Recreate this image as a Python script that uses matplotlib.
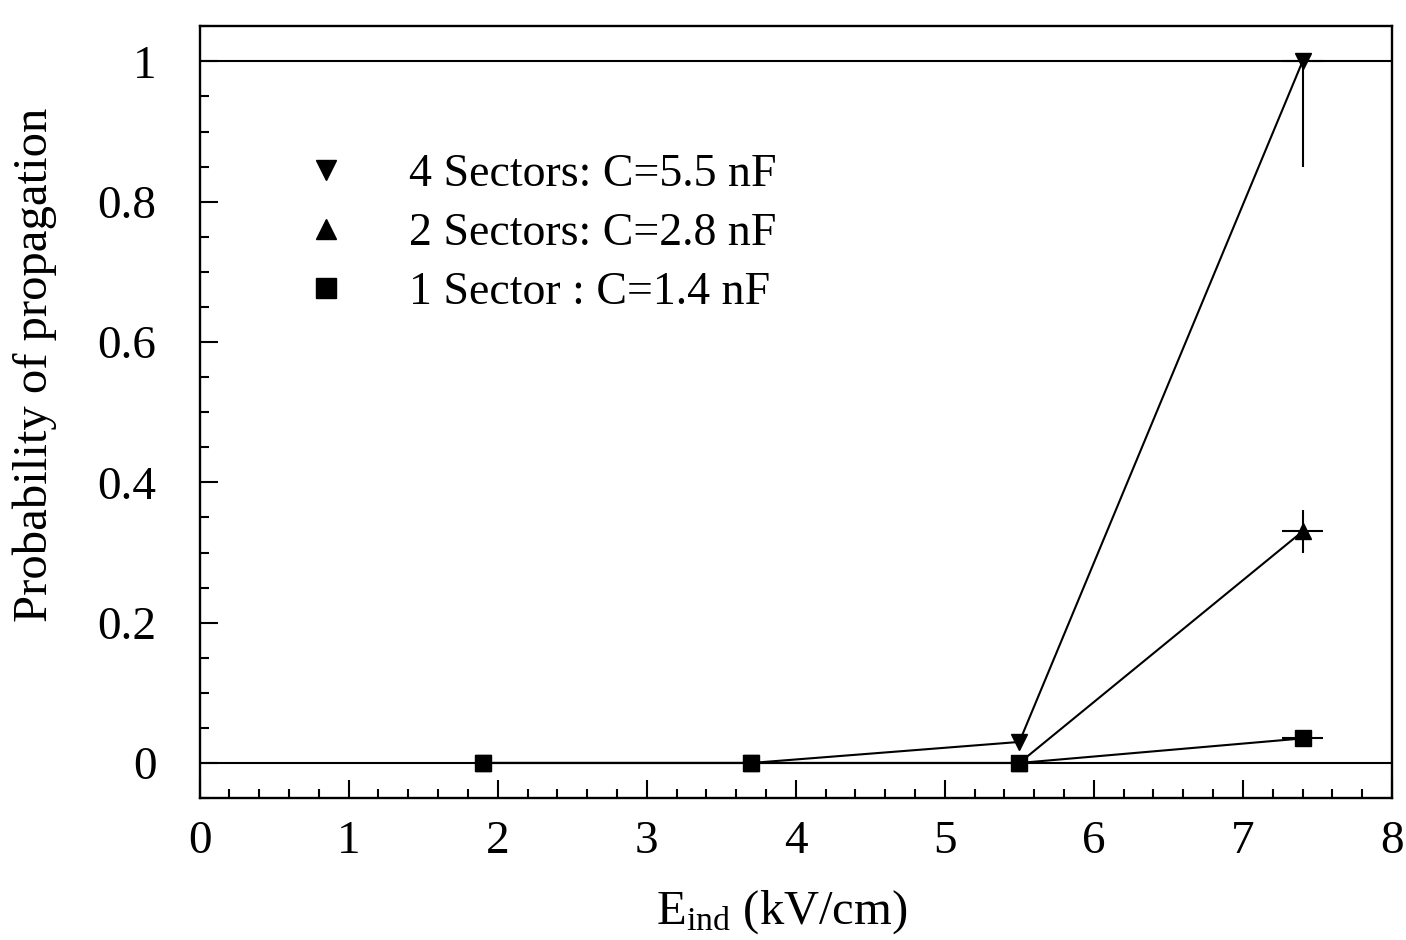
import numpy as np
import matplotlib
matplotlib.use("Agg")
import matplotlib.pyplot as plt
from matplotlib.lines import Line2D

plt.rcParams["font.family"] = ["Liberation Serif", "DejaVu Serif"]
plt.rcParams["mathtext.fontset"] = "custom"
plt.rcParams["mathtext.rm"] = "Liberation Serif"
plt.rcParams["mathtext.it"] = "Liberation Serif:italic"

# induction field (kV/cm)
e_ind = [1.9, 3.7, 5.5, 7.4]

# probability of discharge propagation per configuration
prob_4sec = [0.0, 0.0, 0.03, 1.0]
prob_2sec = [0.0, 0.0, 0.0, 0.33]
prob_1sec = [0.0, 0.0, 0.0, 0.035]

# errors (only the highest field point has visible bars)
err_x = [0, 0, 0, 0.14]
err_4sec_lo = [0, 0, 0, 0.15]
err_4sec_hi = [0, 0, 0, 0.0]
err_2sec = [0, 0, 0, 0.03]
err_1sec = [0, 0, 0, 0.0]

labels = ["4 Sectors: C=5.5 nF", "2 Sectors: C=2.8 nF", "1 Sector : C=1.4 nF"]

x_ticks = [0, 1, 2, 3, 4, 5, 6, 7, 8]
y_ticks = [0, 0.2, 0.4, 0.6, 0.8, 1.0]
y_ticklabels = ["0", "0.2", "0.4", "0.6", "0.8", "1"]

fig = plt.figure(figsize=(14.06, 9.40), dpi=100)
ax = fig.add_axes([0.142, 0.151, 0.848, 0.821])

lw = 1.5
ax.axhline(0, color="k", lw=lw, zorder=1)
ax.axhline(1, color="k", lw=lw, zorder=1)

style = dict(color="k", lw=lw, elinewidth=lw, capsize=0, ms=11, zorder=3)
ax.errorbar(e_ind, prob_4sec, xerr=err_x, yerr=[err_4sec_lo, err_4sec_hi],
            fmt="-v", **style)
ax.errorbar(e_ind, prob_2sec, xerr=err_x, yerr=err_2sec, fmt="-^", **style)
ax.errorbar(e_ind, prob_1sec, xerr=err_x, yerr=err_1sec, fmt="-s", **style)

ax.set_xlim(0, 8)
ax.set_ylim(-0.05, 1.05)
ax.set_xticks(x_ticks)
ax.set_xticklabels([str(v) for v in x_ticks])
ax.set_xticks(np.arange(0, 8.01, 0.2), minor=True)
ax.set_yticks(y_ticks)
ax.set_yticklabels(y_ticklabels)
ax.set_yticks(np.arange(-0.05, 1.06, 0.05), minor=True)

ax.tick_params(which="both", direction="in", top=False, right=False, width=1.5)
ax.tick_params(which="major", length=13, labelsize=34)
ax.tick_params(axis="x", which="major", pad=16)
ax.tick_params(axis="y", which="major", pad=31)
ax.tick_params(which="minor", length=6.5)
for sp in ax.spines.values():
    sp.set_linewidth(1.7)

ax.set_xlabel(r"E$_{\rm ind}$ (kV/cm)", fontsize=35)
ax.xaxis.set_label_coords(0.488, -0.117)
ax.set_ylabel("Probability of propagation", fontsize=35)
ax.yaxis.set_label_coords(-0.12, 0.561)

handles = [Line2D([], [], color="k", marker=m, ls="none", ms=14)
           for m in ["v", "^", "s"]]
ax.legend(handles, labels, loc="upper left", bbox_to_anchor=(0.087, 0.835),
          frameon=False, fontsize=33, handlelength=1.0, handletextpad=1.31,
          labelspacing=0.36, borderpad=0, borderaxespad=0)

fig.savefig("out.png", dpi=100)
